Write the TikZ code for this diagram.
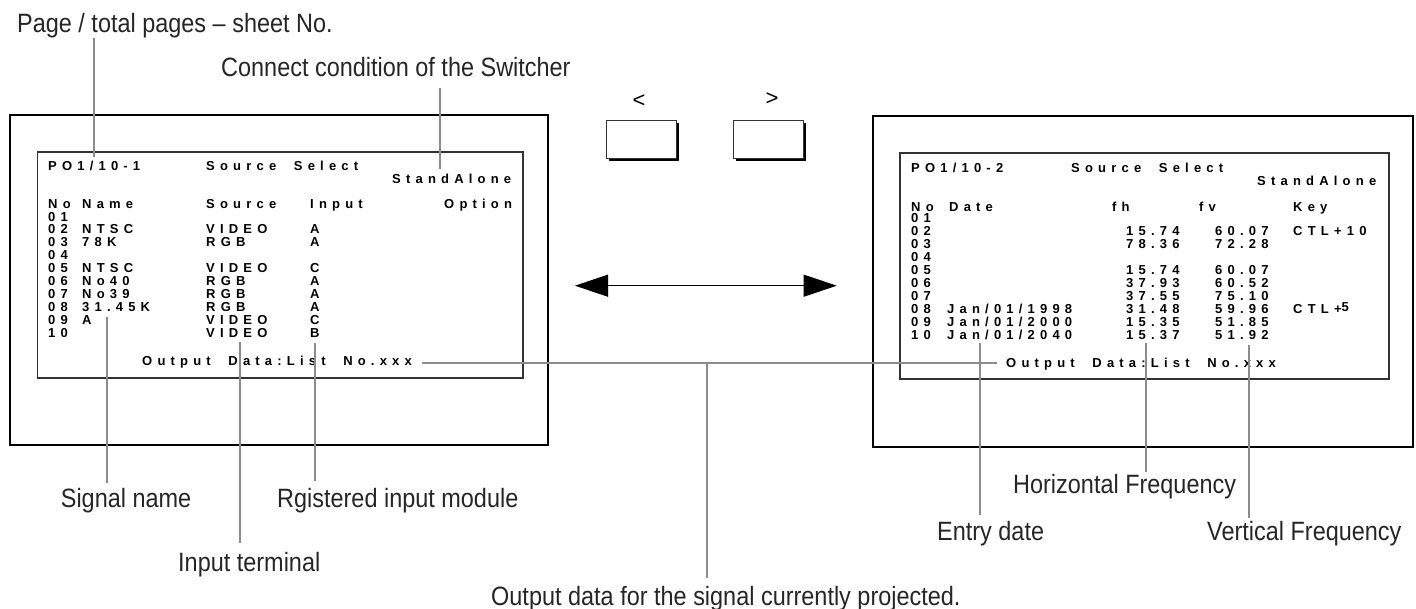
\documentclass[tikz,border=0pt]{standalone}
\usepackage{fontspec}
\setmainfont{Liberation Sans}
\newfontfamily\labfont[FakeStretch=0.885]{Liberation Sans}
\newfontfamily\scrfont[LetterSpace=40,WordSpace=2]{Liberation Sans}
\usetikzlibrary{arrows.meta}
\tikzset{
  scr/.style={font=\scrfont\bfseries\fontsize{13}{13}\selectfont, inner sep=0pt, anchor=base west},
  lab/.style={font=\labfont\fontsize{26.5}{26.5}\selectfont, inner sep=0pt, anchor=base west, text=black!85},
  outerbox/.style={draw=black, line width=2.7pt},
  innerbox/.style={draw=black!80, line width=1.3pt},
  leader/.style={draw=black!45, line width=2pt},
  btnshadow/.style={fill=black},
  btnface/.style={fill=white, draw=black!80, line width=0.8pt},
  sym/.style={font=\fontsize{22}{22}\selectfont, inner sep=0pt},
}
\begin{document}
\begin{tikzpicture}[x=1pt,y=-1pt]
\useasboundingbox (0,0) rectangle (1416,608);

% ---------- screens ----------
\draw[outerbox] (10,115) rectangle (548,445);
\draw[innerbox] (37.5,152) rectangle (523,378);
\draw[outerbox] (873,116) rectangle (1413,447);
\draw[innerbox] (900,153) rectangle (1389,379);

% ---------- left screen text ----------
\node[scr] (lpage) at (48,170.3) {PO1/10-1};
\node[scr] (ltitle) at (206,170.3) {Source Select};
\node[scr] (lsa) at (392,183.3) {StandAlone};
\node[scr] (lhNo) at (48,208.3) {No};
\node[scr] (lhName) at (82,208.3) {Name};
\node[scr] (lhSrc) at (206,208.3) {Source};
\node[scr] (lhIn) at (310,208.3) {Input};
\node[scr] (lhOpt) at (444,208.3) {Option};
\foreach \k/\n in {0/01,1/02,2/03,3/04,4/05,5/06,6/07,7/08,8/09,9/10}
  \node[scr] (ln\n) at (48,221+12.9*\k) {\n};
\foreach \k/\nm/\sr/\inp in {1/NTSC/VIDEO/A,2/78K/RGB/A,4/NTSC/VIDEO/C,5/No40/RGB/A,6/No39/RGB/A,7/31.45K/RGB/A}{
  \node[scr] (lname\k) at (82,221+12.9*\k) {\nm};
  \node[scr] (lsrc\k) at (206,221+12.9*\k) {\sr};
  \node[scr] (lin\k) at (310,221+12.9*\k) {\inp};
}
\node[scr] (lname8) at (82,221+12.9*8) {A};
\node[scr] (lsrc8) at (206,221+12.9*8) {VIDEO};
\node[scr] (lin8) at (310,221+12.9*8) {C};
\node[scr] (lsrc9) at (206,221+12.9*9) {VIDEO};
\node[scr] (lin9) at (310,221+12.9*9) {B};
\node[scr] (lout) at (142,365.5) {Output Data:List No.xxx};

% ---------- right screen text ----------
\node[scr] (rpage) at (911,172.3) {PO1/10-2};
\node[scr] (rtitle) at (1071,172.3) {Source Select};
\node[scr] (rsa) at (1257,185.3) {StandAlone};
\node[scr] (rhNo) at (911,211.3) {No};
\node[scr] (rhDate) at (949,211.3) {Date};
\node[scr] (rhfh) at (1112,211.3) {fh};
\node[scr] (rhfv) at (1199,211.3) {fv};
\node[scr] (rhKey) at (1293,211.3) {Key};
\foreach \k/\n in {0/01,1/02,2/03,3/04,4/05,5/06,6/07,7/08,8/09,9/10}
  \node[scr] (rn\n) at (911,222.6+12.97*\k) {\n};
\foreach \k/\fh/\fv in {1/15.74/60.07,2/78.36/72.28,4/15.74/60.07,5/37.93/60.52,6/37.55/75.10,7/31.48/59.96,8/15.35/51.85,9/15.37/51.92}{
  \node[scr] (rfh\k) at (1126,222.6+12.97*\k) {\fh};
  \node[scr] (rfv\k) at (1215,222.6+12.97*\k) {\fv};
}
\node[scr] (rdate7) at (947,222.6+12.97*7) {Jan/01/1998};
\node[scr] (rdate8) at (947,222.6+12.97*8) {Jan/01/2000};
\node[scr] (rdate9) at (947,222.6+12.97*9) {Jan/01/2040};
\node[scr] (rkey1) at (1293,222.6+12.97) {CTL+10};
\node[scr] (rkey7) at (1293,222.6+12.97*7) {CTL+\raisebox{2pt}{5}};
\node[scr] (rout) at (1006,367.5) {Output Data:List No.xxx};

% ---------- buttons ----------
\fill[btnshadow] (609,123) rectangle (679,161);
\draw[btnface] (606,120) rectangle (676,158);
\fill[btnshadow] (736,123) rectangle (806,161);
\draw[btnface] (733,120) rectangle (803,158);
\node[sym] (prev) at (639,101) {<};
\node[sym] (next) at (772,99) {>};

% ---------- double arrow ----------
\coordinate (aL) at (575,285.7);
\coordinate (aR) at (836.7,285.7);
\draw[line width=1pt, {Triangle[length=33pt,width=22pt]}-{Triangle[length=33pt,width=22pt]}] (aL) -- (aR);

% ---------- labels ----------
\node[lab] (tPage) at (17,32) {Page / total pages – sheet No.};
\node[lab] (tConn) at (221,76) {Connect condition of the Switcher};
\node[lab] (tSig) at (60.7,507) {Signal name};
\node[lab] (tReg) at (277,507) {Rgistered input module};
\node[lab] (tInp) at (178,571) {Input terminal};
\node[lab] (tOut) at (491,605) {Output data for the signal currently projected.};
\node[lab] (tEntry) at (937,540) {Entry date};
\node[lab] (tHor) at (1013,493) {Horizontal Frequency};
\node[lab] (tVer) at (1207,540) {Vertical Frequency};

% ---------- leader lines ----------
\coordinate (pA) at (94,38);    \coordinate (pB) at (94,157);
\coordinate (cA) at (440,88);   \coordinate (cB) at (440,169);
\coordinate (sA) at (107,317);  \coordinate (sB) at (107,483);
\coordinate (iA) at (239.5,342);\coordinate (iB) at (239.5,543);
\coordinate (gA) at (314.5,343);\coordinate (gB) at (314.5,481);
\coordinate (oL) at (422,362.5);\coordinate (oR) at (997,362.5);
\coordinate (oM) at (707,362.5);\coordinate (oB) at (707,578);
\coordinate (eA) at (980,343);  \coordinate (eB) at (980,515);
\coordinate (hA) at (1146,343); \coordinate (hB) at (1146,472);
\coordinate (vA) at (1249,345); \coordinate (vB) at (1249,518);
\draw[leader] (pA) -- (pB);
\draw[leader] (cA) -- (cB);
\draw[leader] (sA) -- (sB);
\draw[leader] (iA) -- (iB);
\draw[leader] (gA) -- (gB);
\draw[leader] (oL) -- (oR);
\draw[leader] (oM) -- (oB);
\draw[leader] (eA) -- (eB);
\draw[leader] (hA) -- (hB);
\draw[leader] (vA) -- (vB);
\end{tikzpicture}
\end{document}
